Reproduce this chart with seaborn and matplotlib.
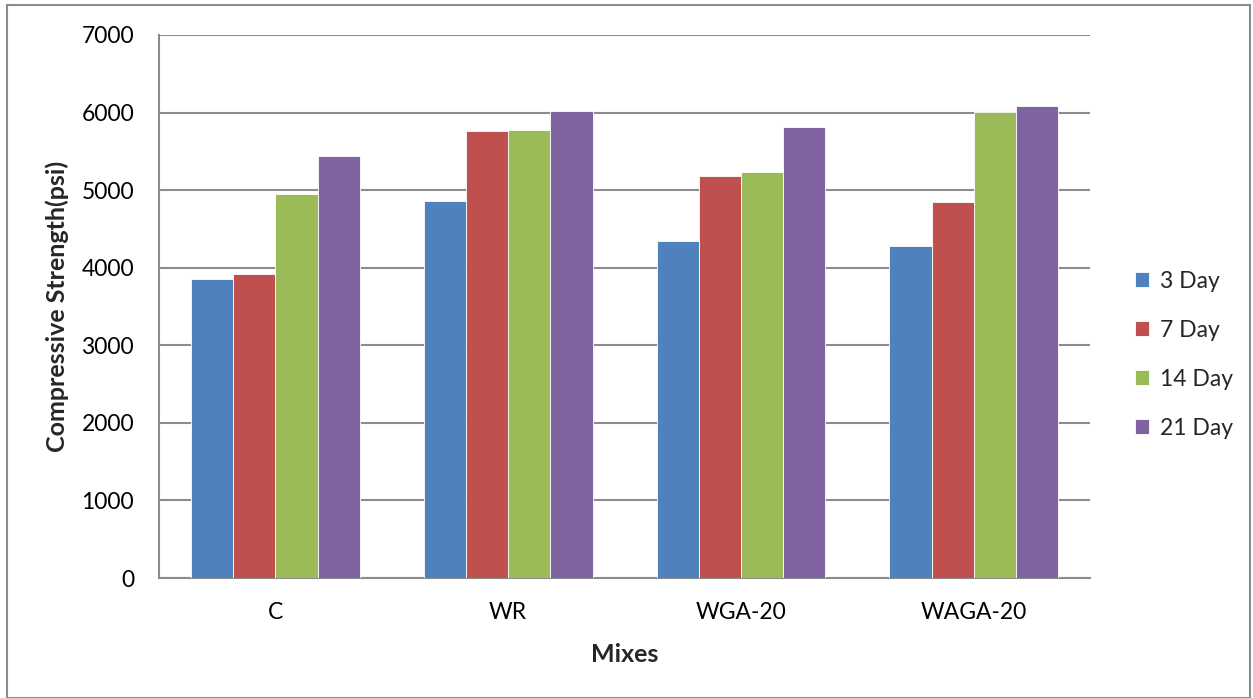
import matplotlib
matplotlib.use("Agg")
import matplotlib.pyplot as plt
from matplotlib.patches import Rectangle
import seaborn as sns
import pandas as pd

mixes = ["C", "WR", "WGA-20", "WAGA-20"]
ages = ["3 Day", "7 Day", "14 Day", "21 Day"]
day3 = [3850, 4862, 4349, 4276]
day7 = [3920, 5767, 5181, 4849]
day14 = [4945, 5776, 5229, 6009]
day21 = [5435, 6015, 5810, 6081]
colors = ["#4F81BD", "#C0504D", "#9BBB59", "#8064A2"]

rows = []
for age, vals in zip(ages, [day3, day7, day14, day21]):
    for mix, v in zip(mixes, vals):
        rows.append({"Mix": mix, "Age": age, "Strength": v})
df = pd.DataFrame(rows)

sns.set_theme(style="white")
plt.rcParams["font.family"] = ["Lato", "DejaVu Sans"]

fig = plt.figure(figsize=(12.53, 6.98), dpi=100)
ax = fig.add_axes([0.1269, 0.1719, 0.870 - 0.1269, 0.9499 - 0.1719])

sns.barplot(data=df, x="Mix", y="Strength", hue="Age", order=mixes,
            hue_order=ages, palette=colors, width=0.725, saturation=1,
            edgecolor="white", linewidth=0.6, ax=ax, zorder=3)

ax.set_ylim(0, 7000)
ax.set_xlim(-0.5, 3.5)
ax.set_yticks(range(0, 7001, 1000))
ax.yaxis.grid(True, color="#8C8C8C", linewidth=1.5, zorder=0)
ax.set_axisbelow(True)

for s in ["top", "right"]:
    ax.spines[s].set_visible(False)
for s in ["left", "bottom"]:
    ax.spines[s].set_color("#8C8C8C")
    ax.spines[s].set_linewidth(1.5)

ax.tick_params(axis="y", which="major", direction="out", length=5,
               width=1.5, color="#8C8C8C", labelsize=16.5, pad=13)
ax.set_xticks([0, 1, 2, 3])
ax.set_xticks([-0.5, 0.5, 1.5, 2.5, 3.5], minor=True)
ax.tick_params(axis="x", which="major", length=0, labelsize=16.5, pad=17)
ax.tick_params(axis="x", which="minor", direction="out", length=6,
               width=1.5, color="#8C8C8C")
for lbl in ax.get_xticklabels() + ax.get_yticklabels():
    lbl.set_color("black")

ax.set_xlabel("Mixes", fontsize=18, fontweight="bold")
ax.set_ylabel("Compressive Strength(psi)", fontsize=18, fontweight="bold")
ax.xaxis.set_label_coords(0.5, -0.12)
ax.yaxis.set_label_coords(-0.097, 0.5)

handles, labels = ax.get_legend_handles_labels()
ax.legend(handles, labels, loc="center left", bbox_to_anchor=(0.906, 0.492),
          bbox_transform=fig.transFigure, frameon=False, fontsize=16.5,
          handlelength=0.62, handleheight=0.62, handletextpad=0.45,
          labelspacing=1.22, borderaxespad=0, borderpad=0)

fig.patches.append(Rectangle((0.0056, 0.0), 0.9920, 0.9928,
                             transform=fig.transFigure, fill=False,
                             edgecolor="#8C8C8C", linewidth=1.5))

fig.savefig("out.png", dpi=100, facecolor="white")
